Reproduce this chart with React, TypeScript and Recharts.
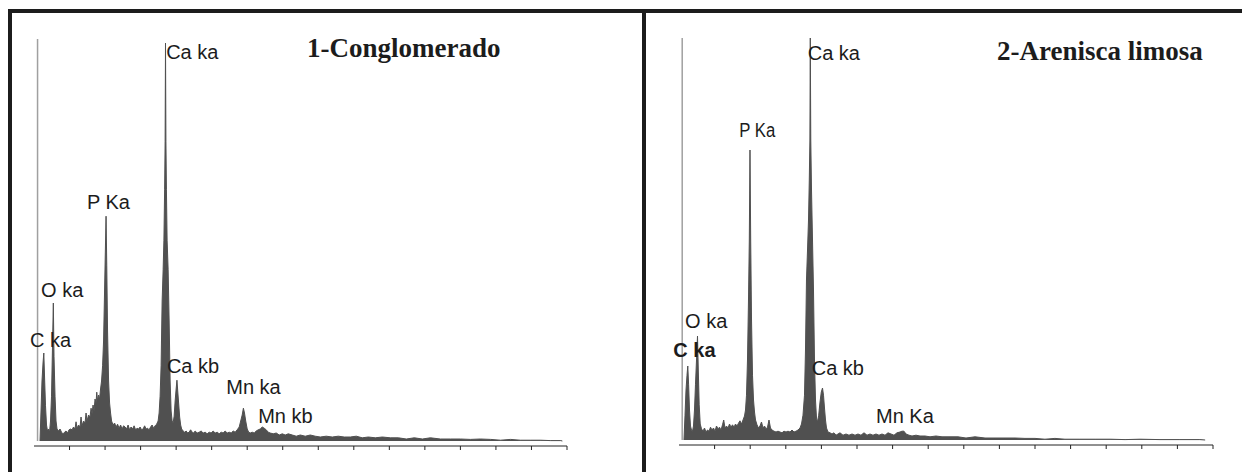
import { AreaChart, Area, XAxis, YAxis, ReferenceLine, ReferenceDot } from 'recharts';

// energy axis, keV
const ENERGY_DOMAIN = [0, 15];
const ENERGY_TICKS = [1, 2, 3, 4, 5, 6, 7, 8, 9, 10, 11, 12, 13, 14, 15];
// counts (arbitrary units)
const COUNT_DOMAIN = [-12.5, 1005];

const TITLES = ['1-Conglomerado', '2-Arenisca limosa'];

// 1-Conglomerado spectrum: [keV, counts]
const CONGLOMERADO: [number, number][] = [
  [0.169, 0], [0.197, 75], [0.225, 150], [0.254, 195], [0.276, 220], [0.299, 155], [0.324, 88], [0.352, 40],
  [0.38, 25], [0.408, 30], [0.437, 22], [0.465, 50], [0.493, 112], [0.521, 238], [0.544, 345], [0.563, 212],
  [0.592, 112], [0.62, 50], [0.648, 30], [0.69, 25], [0.732, 30], [0.775, 22], [0.817, 18], [0.859, 22],
  [0.901, 25], [0.944, 20], [0.986, 28], [1.028, 30], [1.07, 28], [1.113, 35], [1.155, 30], [1.183, 48],
  [1.211, 32], [1.254, 40], [1.296, 35], [1.324, 60], [1.352, 38], [1.394, 50], [1.437, 45], [1.465, 70],
  [1.493, 50], [1.535, 65], [1.577, 60], [1.606, 82], [1.634, 68], [1.662, 90], [1.69, 75], [1.718, 105],
  [1.746, 95], [1.766, 122], [1.789, 100], [1.817, 115], [1.845, 105], [1.873, 130], [1.901, 150], [1.93, 188],
  [1.958, 250], [1.986, 375], [2.008, 475], [2.028, 562], [2.048, 438], [2.07, 275], [2.099, 150], [2.127, 95],
  [2.155, 70], [2.183, 50], [2.225, 40], [2.268, 45], [2.31, 35], [2.352, 42], [2.394, 32], [2.437, 40],
  [2.479, 30], [2.521, 38], [2.563, 35], [2.606, 30], [2.648, 40], [2.69, 28], [2.732, 35], [2.775, 30],
  [2.817, 38], [2.859, 28], [2.901, 32], [2.944, 30], [2.986, 35], [3.028, 28], [3.07, 30], [3.113, 38],
  [3.155, 30], [3.197, 32], [3.239, 28], [3.282, 35], [3.324, 40], [3.366, 32], [3.408, 38], [3.451, 42],
  [3.493, 50], [3.521, 70], [3.549, 112], [3.577, 188], [3.606, 350], [3.634, 428], [3.656, 502], [3.676, 628],
  [3.69, 748], [3.701, 995], [3.713, 748], [3.727, 628], [3.746, 502], [3.775, 428], [3.803, 300], [3.831, 150],
  [3.859, 75], [3.887, 50], [3.915, 45], [3.944, 62], [3.972, 100], [4.0, 130], [4.023, 152], [4.045, 125],
  [4.07, 95], [4.099, 60], [4.127, 40], [4.155, 30], [4.197, 25], [4.239, 22], [4.282, 25], [4.324, 20],
  [4.366, 22], [4.408, 28], [4.451, 22], [4.493, 20], [4.535, 25], [4.592, 20], [4.648, 22], [4.704, 25],
  [4.761, 20], [4.817, 22], [4.873, 18], [4.93, 22], [4.986, 20], [5.042, 25], [5.099, 20], [5.155, 22],
  [5.211, 18], [5.268, 22], [5.324, 20], [5.38, 25], [5.437, 20], [5.493, 22], [5.549, 20], [5.606, 25],
  [5.662, 22], [5.718, 28], [5.775, 35], [5.817, 50], [5.859, 65], [5.893, 82], [5.924, 70], [5.958, 50],
  [6.0, 30], [6.042, 22], [6.085, 20], [6.141, 22], [6.197, 20], [6.254, 25], [6.31, 28], [6.366, 30],
  [6.423, 35], [6.479, 32], [6.535, 28], [6.592, 22], [6.648, 20], [6.732, 18], [6.817, 20], [6.901, 15],
  [6.986, 18], [7.07, 15], [7.155, 18], [7.268, 15], [7.38, 12], [7.493, 15], [7.634, 12], [7.775, 15],
  [7.915, 12], [8.056, 10], [8.225, 12], [8.394, 10], [8.563, 12], [8.732, 10], [8.901, 10], [9.07, 12],
  [9.239, 8], [9.408, 10], [9.606, 8], [9.803, 10], [10.028, 8], [10.254, 8], [10.479, 5], [10.704, 8],
  [10.93, 5], [11.155, 8], [11.437, 5], [11.718, 5], [12.0, 5], [12.28, 4], [12.56, 5], [12.85, 4],
  [13.13, 2], [13.41, 4], [13.69, 2], [13.97, 2], [14.25, 2], [14.54, 1], [14.82, 1], [14.87, 0],
];
const CONGLOMERADO_ZERO_PEAK: [number, number] = [0.1, 1005];
// [label, keV, counts] where each label text starts
const CONGLOMERADO_LABELS: [string, number, number][] = [
  ['Ca ka', 3.72, 955],
  ['P Ka', 1.49, 580],
  ['O ka', 0.2, 360],
  ['C ka', -0.11, 235],
  ['Ca kb', 3.74, 170],
  ['Mn ka', 5.41, 118],
  ['Mn kb', 6.31, 45],
];

// 2-Arenisca limosa spectrum: [keV, counts]
const ARENISCA: [number, number][] = [
  [0.14, 0], [0.169, 62], [0.197, 125], [0.225, 162], [0.247, 185], [0.27, 138], [0.295, 75], [0.323, 35],
  [0.351, 25], [0.379, 22], [0.407, 35], [0.435, 75], [0.463, 138], [0.492, 200], [0.52, 260], [0.542, 175],
  [0.567, 88], [0.596, 40], [0.632, 28], [0.674, 22], [0.716, 30], [0.758, 20], [0.801, 25], [0.843, 22],
  [0.885, 32], [0.927, 25], [0.969, 30], [1.011, 22], [1.053, 35], [1.096, 28], [1.138, 32], [1.18, 25],
  [1.222, 38], [1.256, 50], [1.292, 30], [1.334, 35], [1.376, 30], [1.419, 40], [1.461, 32], [1.503, 38],
  [1.545, 32], [1.587, 40], [1.629, 35], [1.671, 42], [1.713, 48], [1.756, 40], [1.798, 50], [1.84, 60],
  [1.868, 75], [1.896, 112], [1.924, 200], [1.952, 350], [1.975, 500], [1.994, 725], [2.014, 500], [2.037, 300],
  [2.065, 162], [2.093, 100], [2.121, 70], [2.149, 50], [2.191, 38], [2.233, 30], [2.275, 35], [2.317, 45],
  [2.36, 30], [2.402, 35], [2.444, 28], [2.486, 32], [2.528, 50], [2.57, 30], [2.612, 25], [2.669, 22],
  [2.725, 20], [2.781, 22], [2.837, 20], [2.893, 18], [2.949, 22], [3.006, 20], [3.062, 22], [3.118, 20],
  [3.174, 25], [3.23, 20], [3.287, 22], [3.343, 25], [3.399, 30], [3.441, 40], [3.483, 62], [3.525, 112],
  [3.553, 225], [3.581, 400], [3.61, 475], [3.638, 550], [3.66, 650], [3.677, 750], [3.688, 1005], [3.702, 750],
  [3.722, 625], [3.75, 500], [3.778, 375], [3.806, 200], [3.834, 100], [3.862, 55], [3.89, 45], [3.924, 62],
  [3.961, 95], [3.997, 120], [4.031, 130], [4.059, 112], [4.087, 80], [4.115, 50], [4.143, 30], [4.185, 20],
  [4.242, 18], [4.298, 15], [4.354, 18], [4.41, 12], [4.466, 15], [4.522, 18], [4.607, 12], [4.691, 15],
  [4.775, 12], [4.86, 15], [4.944, 12], [5.028, 15], [5.112, 12], [5.197, 18], [5.281, 12], [5.365, 15],
  [5.449, 12], [5.534, 15], [5.618, 12], [5.702, 15], [5.787, 12], [5.871, 18], [5.955, 15], [6.039, 12],
  [6.124, 18], [6.208, 20], [6.264, 22], [6.32, 22], [6.376, 15], [6.461, 12], [6.545, 10], [6.657, 12],
  [6.77, 10], [6.91, 10], [7.051, 8], [7.219, 10], [7.388, 8], [7.612, 8], [7.837, 8], [8.062, 5],
  [8.315, 8], [8.596, 5], [8.876, 5], [9.157, 5], [9.438, 5], [9.719, 4], [10.0, 4], [10.28, 2],
  [10.56, 4], [10.84, 2], [11.26, 2], [11.69, 2], [12.11, 2], [12.53, 1], [12.95, 2], [13.51, 1],
  [14.07, 1], [14.63, 1], [14.78, 0],
];
const ARENISCA_ZERO_PEAK: [number, number] = [0.09, 1005];
const ARENISCA_LABELS: [string, number, number][] = [
  ['Ca ka', 3.615, 950],
  ['P Ka', 1.694, 757],
  ['O ka', 0.169, 279],
  ['C ka', -0.16, 208],
  ['Ca kb', 3.728, 162],
  ['Mn Ka', 5.534, 42],
];

const INK = '#1c1c1c';
const SPECTRUM = '#505050';

// tick marks only, no tick text
const noTickText = () => <g />;

function peakLabel(text: string, bold: boolean, fitWidth?: number) {
  return (props: any) => {
    const vb = props.viewBox || {};
    const x = (vb.x ?? 0) + (vb.width ?? 0) / 2;
    const y = (vb.y ?? 0) + (vb.height ?? 0) / 2;
    return (
      <text
        x={x}
        y={y}
        fill={INK}
        fontFamily="'Liberation Sans', Arial, sans-serif"
        fontSize={20}
        fontWeight={bold ? 700 : 400}
        textLength={fitWidth}
        lengthAdjust={fitWidth ? 'spacingAndGlyphs' : undefined}
      >
        {text}
      </text>
    );
  };
}

interface PanelProps {
  left: number;
  width: number;
  margin: { top: number; right: number; bottom: number; left: number };
  spectrum: [number, number][];
  zeroPeak: [number, number];
  labels: [string, number, number][];
  bold?: string[];
  narrow?: Record<string, number>;
}

function SpectrumPanel({ left, width, margin, spectrum, zeroPeak, labels, bold = [], narrow = {} }: PanelProps) {
  const data = spectrum.map(([e, c]) => ({ e, c }));
  return (
    <div style={{ position: 'absolute', left, top: 0 }}>
      <AreaChart width={width} height={472} data={data} margin={margin}>
        <XAxis
          dataKey="e"
          type="number"
          domain={ENERGY_DOMAIN}
          ticks={ENERGY_TICKS}
          interval={0}
          allowDataOverflow
          tick={noTickText}
          tickSize={4}
          height={10}
          axisLine={{ stroke: '#222', strokeWidth: 1 }}
          tickLine={{ stroke: '#222', strokeWidth: 1 }}
        />
        <YAxis hide type="number" domain={COUNT_DOMAIN} allowDataOverflow />
        <ReferenceLine
          segment={[
            { x: zeroPeak[0], y: 0 },
            { x: zeroPeak[0], y: zeroPeak[1] },
          ]}
          stroke="#a0a0a0"
          strokeWidth={1.5}
          ifOverflow="visible"
        />
        <Area
          type="linear"
          dataKey="c"
          stroke={SPECTRUM}
          strokeWidth={1}
          fill={SPECTRUM}
          fillOpacity={1}
          baseValue={0}
          dot={false}
          activeDot={false}
          isAnimationActive={false}
        />
        {labels.map(([name, e, c]) => (
          <ReferenceDot
            key={name}
            x={e}
            y={c}
            r={1}
            fill="none"
            stroke="none"
            ifOverflow="visible"
            label={{ content: peakLabel(name, bold.includes(name), narrow[name]) }}
          />
        ))}
      </AreaChart>
    </div>
  );
}

export default function App() {
  return (
    <div style={{ position: 'absolute', left: 0, top: 0, width: 1242, height: 472, background: '#fff', overflow: 'hidden' }}>
      <SpectrumPanel
        left={0}
        width={640}
        margin={{ top: 39, right: 73, bottom: 16, left: 34 }}
        spectrum={CONGLOMERADO}
        zeroPeak={CONGLOMERADO_ZERO_PEAK}
        labels={CONGLOMERADO_LABELS}
      />
      <SpectrumPanel
        left={646}
        width={596}
        margin={{ top: 38, right: 29, bottom: 17, left: 33 }}
        spectrum={ARENISCA}
        zeroPeak={ARENISCA_ZERO_PEAK}
        labels={ARENISCA_LABELS}
        bold={['C ka']}
        narrow={{ 'P Ka': 36 }}
      />

      {/* frame: top rule, left rule and the divider between panels */}
      <div style={{ position: 'absolute', left: 8, top: 9, width: 1234, height: 4, background: INK }} />
      <div style={{ position: 'absolute', left: 8, top: 9, width: 4, height: 463, background: INK }} />
      <div style={{ position: 'absolute', left: 642, top: 9, width: 4, height: 463, background: INK }} />

      <svg width={1242} height={472} style={{ position: 'absolute', left: 0, top: 0, pointerEvents: 'none' }}>
        <text x={307} y={57} fill={INK} fontFamily="'Liberation Serif', 'Times New Roman', serif" fontWeight={700} fontSize={27}>
          {TITLES[0]}
        </text>
        <text x={997} y={60} fill={INK} fontFamily="'Liberation Serif', 'Times New Roman', serif" fontWeight={700} fontSize={27}>
          {TITLES[1]}
        </text>
      </svg>
    </div>
  );
}
